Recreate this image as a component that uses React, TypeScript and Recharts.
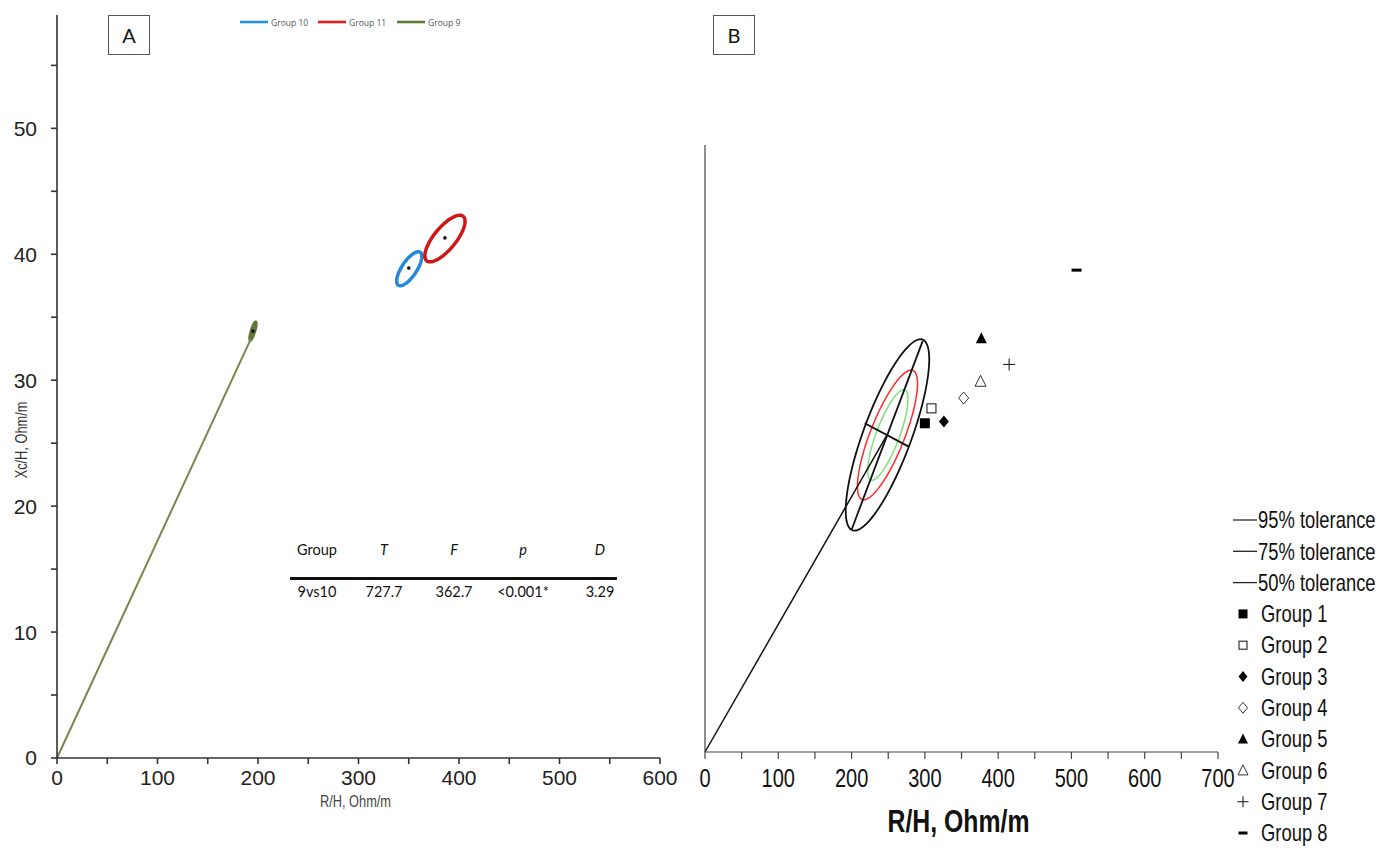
import React from 'react';
import { ScatterChart, Scatter, XAxis, YAxis, ReferenceArea, ReferenceLine, Label } from 'recharts';

// ---- panel A: groups 9, 10, 11
const A_GROUPS = ['Group 10', 'Group 11', 'Group 9'];
const A_MEAN_R = [350, 386, 195];
const A_MEAN_XC = [38.9, 41.3, 33.9];
const A_ELL_R = [[338, 363], [366, 406], [192, 198]];
const A_ELL_XC = [[37.5, 40.2], [39.4, 43.1], [33.2, 34.6]];
const A_ELL_RHO = [0.72, 0.74, 0.85];
const A_VECTOR_END = { x: 193, y: 33.3 };
const A_X_TICKS = [0, 50, 100, 150, 200, 250, 300, 350, 400, 450, 500, 550, 600];
const A_Y_TICKS = [0, 5, 10, 15, 20, 25, 30, 35, 40, 45, 50, 55];

const TABLE_HEAD = ['Group', 'T', 'F', 'p', 'D'];
const TABLE_ROW = ['9vs10', '727.7', '362.7', '<0.001*', '3.29'];

// ---- panel B: groups 1-8 on the tolerance ellipses
const B_GROUPS = ['Group 1', 'Group 2', 'Group 3', 'Group 4', 'Group 5', 'Group 6', 'Group 7', 'Group 8'];
const B_R = [300, 309, 326, 353, 377, 376, 415, 507];
const B_XC = [35.2, 36.8, 35.4, 37.9, 44.3, 39.7, 41.5, 51.6];
const B_TOLERANCE = ['95% tolerance', '75% tolerance', '50% tolerance'];
const B_ELL_R = [[192, 306], [208, 290], [222, 277]];
const B_ELL_XC = [[23.7, 44.2], [27.0, 40.9], [29.1, 38.8]];
const B_ELL_RHO = 0.79;
const B_MEAN = { x: 248, y: 33.9 };
const B_MAJOR = [{ x: 200, y: 23.8 }, { x: 297, y: 44.0 }];
const B_MINOR = [{ x: 218, y: 35.2 }, { x: 278, y: 32.7 }];
const B_X_TICKS = [0, 50, 100, 150, 200, 250, 300, 350, 400, 450, 500, 550, 600, 650, 700];
const B_Y_TICKS = [0, 5, 10, 15, 20, 25, 30, 35, 40, 45, 50, 55, 60, 65];

const A_COLORS = ['#2389d6', '#cf1717', '#62783a'];
const A_LEGEND_COLORS = ['#2295e0', '#e31d1d', '#5e7d32'];
const B_ELL_COLORS = ['#111', '#ff2b2b', '#7fe07a'];
const B_MARKERS = ['square', 'squareOpen', 'diamond', 'diamondOpen', 'triangle', 'triangleOpen', 'plus', 'dash'];

const SANS = '"Liberation Sans", Arial, sans-serif';
const NARROW_SCALE = 0.8;

function ellipsePath(x: number, y: number, w: number, h: number, rho: number) {
  const cx = x + w / 2;
  const cy = y + h / 2;
  const hw = Math.abs(w) / 2;
  const hh = Math.abs(h) / 2;
  const s = Math.sqrt(1 - rho * rho);
  const pts: string[] = [];
  for (let i = 0; i < 96; i++) {
    const t = (i / 96) * Math.PI * 2;
    pts.push(`${(cx + hw * Math.cos(t)).toFixed(2)},${(cy - hh * (rho * Math.cos(t) + s * Math.sin(t))).toFixed(2)}`);
  }
  return 'M' + pts.join('L') + 'Z';
}

const ellipseShape = (rho: number, stroke: string, width: number) => (p: any) => (
  <path d={ellipsePath(p.x, p.y, p.width, p.height, rho)} fill="none" stroke={stroke} strokeWidth={width} />
);

// condensed text: no narrow font installed, so squeeze a regular sans
function NarrowText({ x, y, anchor = 'start', size, weight = 'normal', fill = '#111', rotate = 0, children }: any) {
  return (
    <text
      transform={`translate(${x},${y}) rotate(${rotate}) scale(${NARROW_SCALE},1)`}
      textAnchor={anchor}
      dominantBaseline="central"
      fontSize={size}
      fontWeight={weight}
      fontFamily={SANS}
      fill={fill}
    >
      {children}
    </text>
  );
}

const tickA = (every: number, isX: boolean) => (p: any) => {
  const v = p.payload.value;
  if (v % every !== 0) return <g />;
  return (
    <text x={p.x} y={p.y} dy={isX ? '0.71em' : '0.355em'} textAnchor={p.textAnchor} fontSize={21} fontFamily={SANS} fill="#222">
      {v}
    </text>
  );
};

const tickB = (p: any) => {
  const v = p.payload.value;
  if (v % 100 !== 0) return <g />;
  return (
    <NarrowText x={p.x} y={p.y + 9} anchor="middle" size={25} fill="#111">
      {v}
    </NarrowText>
  );
};

function Marker({ kind, cx, cy, s = 10 }: { kind: string; cx: number; cy: number; s?: number }) {
  const h = s / 2;
  switch (kind) {
    case 'square':
      return <rect x={cx - h} y={cy - h} width={s} height={s} fill="#000" />;
    case 'squareOpen':
      return <rect x={cx - h + 0.5} y={cy - h + 0.5} width={s - 1} height={s - 1} fill="#fff" stroke="#222" strokeWidth={1.1} />;
    case 'diamond':
      return <polygon points={`${cx},${cy - h - 1} ${cx + h},${cy} ${cx},${cy + h + 1} ${cx - h},${cy}`} fill="#000" />;
    case 'diamondOpen':
      return <polygon points={`${cx},${cy - h - 1} ${cx + h},${cy} ${cx},${cy + h + 1} ${cx - h},${cy}`} fill="#fff" stroke="#333" strokeWidth={1} />;
    case 'triangle':
      return <polygon points={`${cx},${cy - h - 1} ${cx + h + 0.5},${cy + h} ${cx - h - 0.5},${cy + h}`} fill="#000" />;
    case 'triangleOpen':
      return <polygon points={`${cx},${cy - h - 1} ${cx + h + 0.5},${cy + h} ${cx - h - 0.5},${cy + h}`} fill="#fff" stroke="#333" strokeWidth={1} />;
    case 'plus':
      return (
        <g stroke="#222" strokeWidth={1.1}>
          <line x1={cx - h - 1} y1={cy} x2={cx + h + 1} y2={cy} />
          <line x1={cx} y1={cy - h - 1} x2={cx} y2={cy + h + 1} />
        </g>
      );
    default:
      return <rect x={cx - h} y={cy - 1.5} width={s} height={3} fill="#000" />;
  }
}

function PanelA() {
  const means = A_MEAN_R.map((r, i) => ({ x: r, y: A_MEAN_XC[i] }));
  return (
    <ScatterChart width={700} height={848} margin={{ top: 15, right: 40, bottom: 0, left: 0 }}>
      <XAxis
        type="number"
        dataKey="x"
        domain={[0, 600]}
        ticks={A_X_TICKS}
        interval={0}
        height={90}
        tickSize={6}
        tickMargin={6}
        stroke="#333"
        strokeWidth={1.6}
        tick={tickA(100, true)}
      >
        <Label
          content={(p: any) => (
            <NarrowText x={p.viewBox.x + p.viewBox.width / 2 - 3} y={801} anchor="middle" size={16} fill="#444">
              R/H, Ohm/m
            </NarrowText>
          )}
        />
      </XAxis>
      <YAxis
        type="number"
        dataKey="y"
        domain={[0, 59]}
        ticks={A_Y_TICKS}
        interval={0}
        width={57}
        tickSize={6}
        tickMargin={14}
        stroke="#333"
        strokeWidth={1.6}
        tick={tickA(10, false)}
      >
        <Label
          content={() => (
            <NarrowText x={21} y={440} anchor="middle" size={16} fill="#333" rotate={-90}>
              Xc/H, Ohm/m
            </NarrowText>
          )}
        />
      </YAxis>
      <ReferenceLine segment={[{ x: 0, y: 0 }, A_VECTOR_END]} stroke="#7b8550" strokeWidth={2} ifOverflow="visible" />
      {A_GROUPS.map((g, i) => (
        <ReferenceArea
          key={g}
          x1={A_ELL_R[i][0]}
          x2={A_ELL_R[i][1]}
          y1={A_ELL_XC[i][0]}
          y2={A_ELL_XC[i][1]}
          ifOverflow="visible"
          shape={ellipseShape(A_ELL_RHO[i], A_COLORS[i], 3.5)}
        />
      ))}
      <Scatter data={means} isAnimationActive={false} shape={(p: any) => <circle cx={p.cx} cy={p.cy} r={1.8} fill="#111" />} />
    </ScatterChart>
  );
}

function PanelB() {
  return (
    <ScatterChart width={600} height={848} margin={{ top: 145, right: 22, bottom: 0, left: 0 }}>
      <XAxis
        type="number"
        dataKey="x"
        domain={[0, 700]}
        ticks={B_X_TICKS}
        interval={0}
        height={96}
        tickSize={7}
        tickMargin={11}
        stroke="#444"
        strokeWidth={1.2}
        tick={tickB}
      >
        <Label
          content={(p: any) => (
            <NarrowText x={p.viewBox.x + p.viewBox.width / 2 - 3} y={822} anchor="middle" size={31} weight="bold" fill="#111">
              R/H, Ohm/m
            </NarrowText>
          )}
        />
      </XAxis>
      <YAxis
        type="number"
        dataKey="y"
        domain={[0, 65]}
        ticks={B_Y_TICKS}
        interval={0}
        width={65}
        tickSize={7}
        stroke="#444"
        strokeWidth={1.2}
        tick={false}
      />
      <ReferenceLine segment={[{ x: 0, y: 0 }, B_MEAN]} stroke="#111" strokeWidth={1.5} ifOverflow="visible" />
      {B_TOLERANCE.map((t, i) => (
        <ReferenceArea
          key={t}
          x1={B_ELL_R[i][0]}
          x2={B_ELL_R[i][1]}
          y1={B_ELL_XC[i][0]}
          y2={B_ELL_XC[i][1]}
          ifOverflow="visible"
          shape={ellipseShape(B_ELL_RHO, B_ELL_COLORS[i], i === 0 ? 1.8 : 1.5)}
        />
      ))}
      <ReferenceLine segment={B_MAJOR} stroke="#111" strokeWidth={1.8} ifOverflow="visible" />
      <ReferenceLine segment={B_MINOR} stroke="#111" strokeWidth={1.8} ifOverflow="visible" />
      {B_GROUPS.map((g, i) => (
        <Scatter
          key={g}
          name={g}
          data={[{ x: B_R[i], y: B_XC[i] }]}
          isAnimationActive={false}
          shape={(p: any) => <Marker kind={B_MARKERS[i]} cx={p.cx} cy={p.cy} />}
        />
      ))}
    </ScatterChart>
  );
}

function LegendA() {
  const xs = [240, 318, 397];
  return (
    <svg width={260} height={20} style={{ position: 'absolute', left: 230, top: 12 }}>
      {A_GROUPS.map((g, i) => (
        <g key={g}>
          <line x1={xs[i] - 230} x2={xs[i] - 230 + 28} y1={10} y2={10} stroke={A_LEGEND_COLORS[i]} strokeWidth={2.6} />
          <text x={xs[i] - 230 + 31} y={10} dominantBaseline="central" fontSize={8.5} fontFamily='"Open Sans", sans-serif' fill="#555">
            {g}
          </text>
        </g>
      ))}
    </svg>
  );
}

function LegendB() {
  const rows = [...B_TOLERANCE, ...B_GROUPS];
  const top = 500;
  const step = 31.3;
  return (
    <svg width={170} height={348} style={{ position: 'absolute', left: 1225, top }}>
      {rows.map((r, i) => {
        const cy = 520 - top + i * step;
        return (
          <g key={r}>
            {i < 3 ? (
              <line x1={8} x2={32} y1={cy} y2={cy} stroke="#222" strokeWidth={1.3} />
            ) : (
              <Marker kind={B_MARKERS[i - 3]} cx={18} cy={cy} s={9} />
            )}
            <NarrowText x={i < 3 ? 33 : 36} y={cy} size={23} fill="#111">
              {r}
            </NarrowText>
          </g>
        );
      })}
    </svg>
  );
}

function TableA() {
  const cols = [317, 384, 454, 523, 600];
  const font = 'Lato, "Open Sans", sans-serif';
  return (
    <div style={{ position: 'absolute', left: 0, top: 0 }}>
      {TABLE_HEAD.map((h, i) => (
        <div
          key={h}
          style={{
            position: 'absolute', left: cols[i] - 40, width: 80, top: 541, textAlign: 'center',
            fontFamily: font, fontSize: 14.5, fontStyle: i === 0 ? 'normal' : 'italic', color: '#111',
          }}
        >
          {h}
        </div>
      ))}
      <div style={{ position: 'absolute', left: 290, top: 577, width: 327, height: 3, background: '#111' }} />
      {TABLE_ROW.map((v, i) => (
        <div
          key={i}
          style={{
            position: 'absolute', left: cols[i] - 40, width: 80, top: 583, textAlign: 'center',
            fontFamily: font, fontSize: 14.5, color: '#111',
          }}
        >
          {v}
        </div>
      ))}
    </div>
  );
}

const boxStyle = (left: number): React.CSSProperties => ({
  position: 'absolute', left, top: 15, width: 40, height: 38, border: '1px solid #555',
  display: 'flex', alignItems: 'center', justifyContent: 'center',
  fontFamily: 'Lato, "Open Sans", sans-serif', fontSize: 20, color: '#111', background: '#fff',
});

export default function App() {
  return (
    <div style={{ position: 'absolute', left: 0, top: 0, width: 1395, height: 848, background: '#fff', overflow: 'hidden' }}>
      <div style={{ position: 'absolute', left: 0, top: 0 }}>
        <PanelA />
      </div>
      <div style={{ position: 'absolute', left: 640, top: 0 }}>
        <PanelB />
      </div>
      <LegendA />
      <TableA />
      <LegendB />
      <div style={boxStyle(108)}>A</div>
      <div style={boxStyle(713)}>B</div>
    </div>
  );
}
